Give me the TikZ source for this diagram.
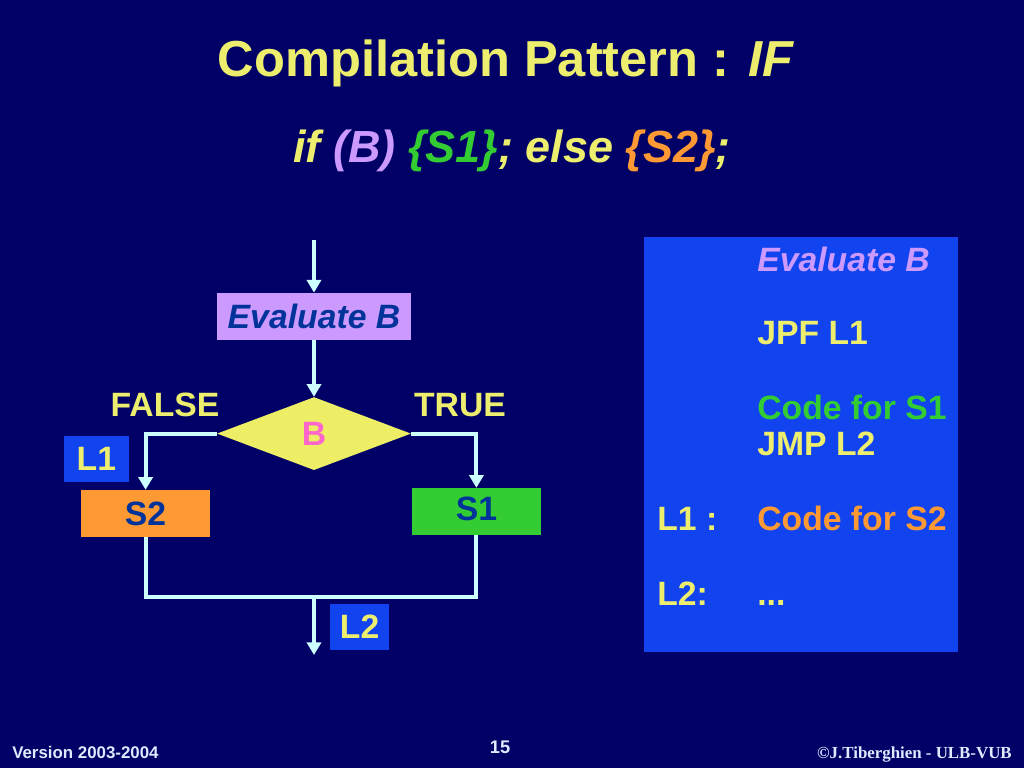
\documentclass[tikz,border=0pt]{standalone}
\usepackage{fontspec}
\setmainfont{Liberation Sans}
\newfontfamily\footserif{Liberation Serif}
\usetikzlibrary{positioning,shapes.geometric,arrows.meta}

\definecolor{slidebg}{RGB}{0,0,102}
\definecolor{titleyellow}{RGB}{238,238,110}
\definecolor{lilac}{RGB}{204,153,255}
\definecolor{codegreen}{RGB}{51,204,51}
\definecolor{codeorange}{RGB}{255,153,51}
\definecolor{condpink}{RGB}{255,102,204}
\definecolor{boxtext}{RGB}{0,51,153}
\definecolor{labelblue}{RGB}{17,68,238}
\definecolor{flowline}{RGB}{204,255,255}
\definecolor{footwhite}{RGB}{220,235,255}
\definecolor{diayellow}{RGB}{238,238,102}

\newcommand{\slidefont}{\fontsize{24}{28}\selectfont\bfseries}

\begin{document}
\begin{tikzpicture}[
        flow/.style={line width=2.8pt,flowline},
        flowarrow/.style={flow,-{Triangle[width=10pt,length=9pt]}},
        stmt/.style={rectangle,minimum width=3.225cm,minimum height=1.175cm,inner sep=0pt,text=boxtext,font=\slidefont},
        labelbox/.style={rectangle,fill=labelblue,minimum height=1.15cm,inner sep=0pt,text=titleyellow,font=\slidefont},
        branch/.style={text=titleyellow,font=\slidefont},
        codeline/.style={anchor=base west,inner sep=0pt,text=titleyellow,font=\slidefont},
        footer/.style={inner sep=0pt,text=footwhite}
    ]
        \fill[slidebg] (0,0) rectangle (25.6,19.2);
        \useasboundingbox (0,0) rectangle (25.6,19.2);

        % title
        \node[anchor=base,text=titleyellow,font=\fontsize{36}{40}\selectfont\bfseries] (title) at (12.65,17.275) {Compilation Pattern : \textit{IF}};
        \node[anchor=base,text=titleyellow,font=\fontsize{32}{36}\selectfont\bfseries\itshape] (syntax) at (12.8,15.125)
            {if \textcolor{lilac}{(B)} \textcolor{codegreen}{\{S1\}}; else \textcolor{codeorange}{\{S2\}};};

        % flow chart
        \coordinate (entry) at (7.85,13.2);
        \node[stmt,fill=lilac,minimum width=4.85cm,font=\slidefont\itshape] (eval) at (7.85,11.29) {Evaluate B};
        \node[diamond,fill=diayellow,minimum width=4.85cm,minimum height=1.825cm,inner sep=0pt,text=condpink,font=\slidefont] (cond) at (7.85,8.36) {B};
        \node[stmt,fill=codeorange] (s2) at (3.64,6.36) {S2};
        \node[stmt,fill=codegreen,text depth=0.15cm] (s1) at (11.91,6.41) {S1};
        \node[labelbox,minimum width=1.625cm] (l1) at (2.41,7.725) {L1};
        \node[labelbox,minimum width=1.475cm] (l2) at (8.99,3.525) {L2};
        \node[branch] (false) at (4.125,9.075) {FALSE};
        \node[branch] (true) at (11.5,9.075) {TRUE};
        \coordinate (join) at (7.85,4.275);
        \coordinate (exit) at (7.85,2.825);

        \draw[flowarrow] (entry) -- (eval);
        \draw[flowarrow] (eval) -- (cond);
        \draw[flowarrow] (cond.west) -| (s2);
        \draw[flowarrow] (cond.east) -| (s1);
        \draw[flow] (s2.south) |- (join) -| (s1.south);
        \draw[flowarrow] (join) -- (exit);

        % generated code
        \node[rectangle,fill=labelblue,minimum width=7.85cm,minimum height=10.375cm,inner sep=0pt] (panel) at (20.025,8.0875) {};
        \node[codeline,text=lilac,font=\slidefont\itshape] (evalcode) at (18.925,12.4) {Evaluate B};
        \node[codeline] (jpf) at (18.925,10.575) {JPF L1};
        \node[codeline,text=codegreen] (codes1) at (18.925,8.7) {Code for S1};
        \node[codeline] (jmp) at (18.925,7.8) {JMP L2};
        \node[codeline,text=codeorange] (codes2) at (18.925,5.925) {Code for S2};
        \node[codeline] (dots) at (18.925,4.05) {...};
        \node[codeline] (lab1) at (16.425,5.925) {L1 :};
        \node[codeline] (lab2) at (16.425,4.05) {L2:};

        % footer
        \node[footer,anchor=base west,font=\fontsize{12}{14}\selectfont\bfseries] (version) at (0.3,0.225) {Version 2003-2004};
        \node[footer,anchor=base,font=\fontsize{13}{15}\selectfont\bfseries] (pageno) at (12.5,0.35) {15};
        \node[footer,anchor=base east,font=\footserif\fontsize{12}{14}\selectfont\bfseries] (copyright) at (25.3,0.225) {©J.Tiberghien - ULB-VUB};
    \end{tikzpicture}
\end{document}
